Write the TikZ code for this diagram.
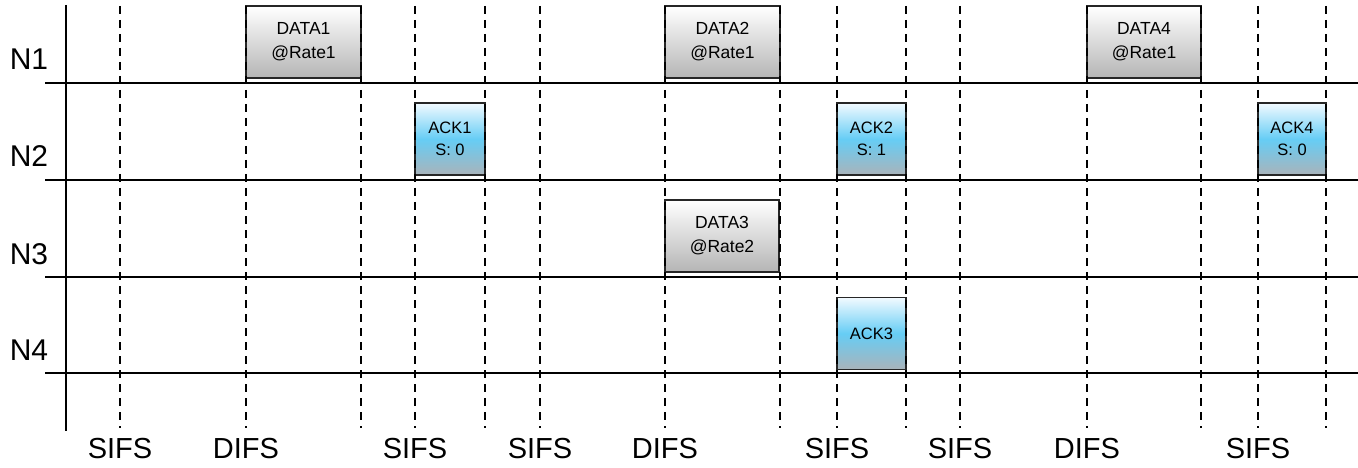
\documentclass[tikz,border=0pt]{standalone}
\usepackage{fontspec}
\setmainfont{Liberation Sans}
\definecolor{ackmid}{HTML}{66CDF5}
\definecolor{acktop}{HTML}{F2FAFF}
\definecolor{ackbot}{HTML}{A9B3BA}
\definecolor{datbot}{HTML}{B5B5B5}
\begin{document}
\begin{tikzpicture}[x=1pt,y=-1pt,
  rowline/.style={line width=1.6pt,black},
  dashline/.style={line width=1.5pt,black,dash pattern=on 8pt off 6pt},
  databox/.style={draw=black!85,line width=1.6pt,top color=white,bottom color=datbot,
    minimum width=115pt,minimum height=72pt,inner sep=0pt,align=center,
    font=\fontsize{17.5}{24}\selectfont},
  ackbox/.style={draw=black!85,line width=1.6pt,top color=acktop,bottom color=ackbot,middle color=ackmid,
    minimum width=69pt,minimum height=72pt,inner sep=0pt,align=center,
    font=\fontsize{16.5}{22}\selectfont},
  rowlab/.style={anchor=base,font=\fontsize{30}{30}\selectfont,inner sep=0pt},
  ifslab/.style={anchor=base,font=\fontsize{29}{29}\selectfont,inner sep=0pt}]
\useasboundingbox (0,0) rectangle (1358,468);
% row separators
\foreach \yy in {83,180,277,373}{\draw[rowline] (45,\yy) -- (1358,\yy);}
% boxes
\node[databox] (d1) at (303.5,42) {DATA1\\@Rate1};
\node[databox] (d2) at (722.5,42) {DATA2\\@Rate1};
\node[databox,minimum width=114pt] (d4) at (1144,42) {DATA4\\@Rate1};
\node[databox,minimum width=114pt] (d3) at (722,236) {DATA3\\@Rate2};
\node[ackbox,minimum width=70pt] (a1) at (450,139) {ACK1\\S: 0};
\node[ackbox] (a2) at (871.5,139) {ACK2\\S: 1};
\node[ackbox,minimum width=68pt] (a4) at (1292,139) {ACK4\\S: 0};
\node[ackbox] (a3) at (871.5,333.5) {ACK3};
% dashed time markers
\foreach \xx in {120,246,361,415,485,540,665,780,837,906,960,1087,1201,1258,1326}{
  \draw[dashline] (\xx,6) -- (\xx,428);}
% axis
\draw[rowline] (66,5) -- (66,431);
% row labels
\node[rowlab] (n1) at (29,70) {N1};
\node[rowlab] (n2) at (29,167) {N2};
\node[rowlab] (n3) at (29,264) {N3};
\node[rowlab] (n4) at (29,360) {N4};
% interval labels
\node[ifslab] (s1) at (120,458) {SIFS};
\node[ifslab] (f1) at (246,458) {DIFS};
\node[ifslab] (s2) at (415,458) {SIFS};
\node[ifslab] (s3) at (540,458) {SIFS};
\node[ifslab] (f2) at (665,458) {DIFS};
\node[ifslab] (s4) at (837,458) {SIFS};
\node[ifslab] (s5) at (960,458) {SIFS};
\node[ifslab] (f3) at (1087,458) {DIFS};
\node[ifslab] (s6) at (1258,458) {SIFS};
\end{tikzpicture}
\end{document}
